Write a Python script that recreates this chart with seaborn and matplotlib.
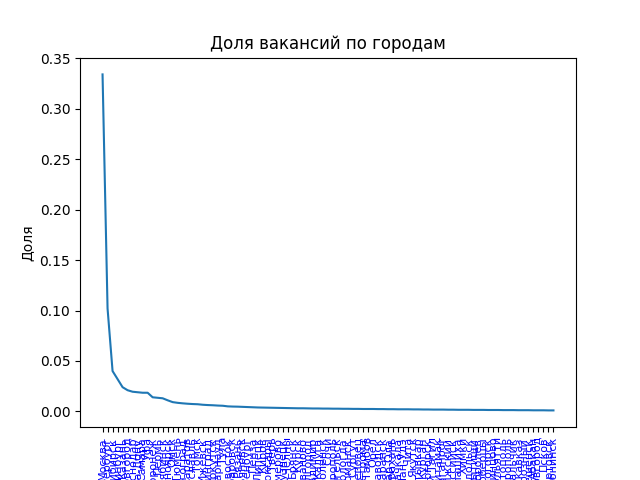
import pandas as pd
import seaborn as sns
import matplotlib
matplotlib.use('Agg')
import matplotlib.pyplot as plt

# города в порядке убывания доли вакансий
cities = [
    'Москва', 'Санкт-Петербург', 'Новосибирск', 'Екатеринбург', 'Казань',
    'Нижний Новгород', 'Краснодар', 'Ростов-на-Дону', 'Самара', 'Уфа',
    'Воронеж', 'Пермь', 'Челябинск', 'Красноярск', 'Омск',
    'Тюмень', 'Волгоград', 'Саратов', 'Ярославль', 'Томск',
    'Ижевск', 'Калининград', 'Иркутск', 'Барнаул', 'Тула',
    'Владивосток', 'Хабаровск', 'Рязань', 'Ульяновск', 'Оренбург',
    'Пенза', 'Липецк', 'Киров', 'Чебоксары', 'Тверь',
    'Кемерово', 'Новокузнецк', 'Набережные Челны', 'Брянск', 'Курск',
    'Иваново', 'Белгород', 'Владимир', 'Калуга', 'Смоленск',
    'Сочи', 'Ставрополь', 'Архангельск', 'Вологда', 'Мурманск',
    'Сургут', 'Череповец', 'Кострома', 'Тамбов', 'Орёл',
    'Петрозаводск', 'Саранск', 'Йошкар-Ола', 'Астрахань', 'Махачкала',
    'Улан-Удэ', 'Чита', 'Якутск', 'Сыктывкар', 'Курган',
    'Магнитогорск', 'Нижний Тагил', 'Стерлитамак', 'Таганрог', 'Волжский',
    'Новороссийск', 'Балашиха', 'Химки', 'Подольск', 'Мытищи',
    'Королёв', 'Люберцы', 'Красногорск', 'Одинцово', 'Тольятти',
    'Севастополь', 'Симферополь', 'Нальчик', 'Владикавказ', 'Грозный',
    'Благовещенск', 'Абакан', 'Великий Новгород', 'Псков', 'Нижневартовск',
    'Обнинск',
]

shares = [
    0.334, 0.102, 0.040, 0.032, 0.024, 0.021, 0.0195, 0.019, 0.0185, 0.0185,
    0.014, 0.0135, 0.013, 0.011, 0.0092, 0.0085, 0.008, 0.0076, 0.0073, 0.0071,
    0.0066, 0.0063, 0.0061, 0.0058, 0.0056, 0.0050, 0.0048, 0.0047, 0.0045, 0.0043,
    0.0041, 0.0039, 0.0038, 0.0037, 0.0036, 0.0035, 0.0034, 0.0033, 0.0032, 0.0031,
    0.0031, 0.0030, 0.0029, 0.0029, 0.0028, 0.0028, 0.0027, 0.0027, 0.0026, 0.0026,
    0.0025, 0.0025, 0.0024, 0.0024, 0.0024, 0.0023, 0.0023, 0.0022, 0.0022, 0.0021,
    0.0021, 0.0021, 0.0020, 0.0020, 0.0019, 0.0019, 0.0018, 0.0018, 0.0018, 0.0017,
    0.0017, 0.0016, 0.0016, 0.0016, 0.0015, 0.0015, 0.0015, 0.0014, 0.0014, 0.0014,
    0.0013, 0.0013, 0.0013, 0.0012, 0.0012, 0.0012, 0.0011, 0.0011, 0.0011, 0.0010,
    0.0010,
]

n = min(len(cities), len(shares))
df = pd.DataFrame({'Город': cities[:n], 'Доля': shares[:n]})

fig, ax = plt.subplots(figsize=(6.4, 4.8), dpi=100)
sns.lineplot(data=df, x='Город', y='Доля', ax=ax, sort=False)
ax.set_title('Доля вакансий по городам')
ax.set_xlabel('')
ax.set_ylabel('Доля')
plt.xticks(rotation=90, fontsize=8, color='blue')
fig.savefig('out.png', dpi=100)
